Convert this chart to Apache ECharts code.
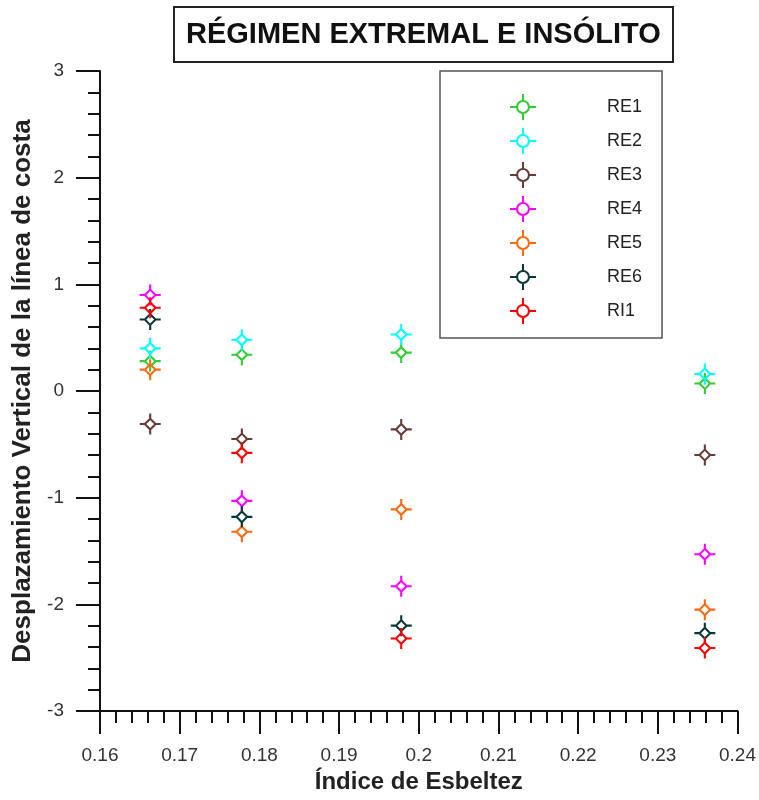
<!DOCTYPE html>
<html>
<head>
<meta charset="utf-8">
<script src="https://cdn.jsdelivr.net/npm/echarts@6/dist/echarts.min.js"></script>
<style>
  html, body { margin: 0; padding: 0; background: #fff; }
  #chart { width: 759px; height: 800px; }
</style>
</head>
<body>
<div id="chart"></div>
<script>
const chartDom = document.getElementById('chart');
const myChart = echarts.init(chartDom);

// Índice de Esbeltez (posiciones en x)
let esbeltez = [0.1663, 0.1778, 0.1978, 0.2359];
// Desplazamiento vertical de la línea de costa
let re1 = [0.28, 0.34, 0.36, 0.07];
let re2 = [0.40, 0.48, 0.53, 0.16];
let re3 = [-0.31, -0.45, -0.36, -0.60];
let re4 = [0.90, -1.03, -1.83, -1.53];
let re5 = [0.20, -1.32, -1.11, -2.05];
let re6 = [0.67, -1.18, -2.20, -2.27];
let ri1 = [0.78, -0.58, -2.32, -2.41];

let names = ['RE1', 'RE2', 'RE3', 'RE4', 'RE5', 'RE6', 'RI1'];
let values = [re1, re2, re3, re4, re5, re6, ri1];
let colors = ['#33cc33', '#00ffff', '#663c38', '#ff00ff', '#ff6a10', '#0a3838', '#ff0000'];

// rombo hueco con cruz (marcador del gráfico)
const markPath = 'path://M10 3.5 L16.5 10 L10 16.5 L3.5 10 Z M10 6.3 L6.3 10 L10 13.7 L13.7 10 Z ' +
    'M9 0 H11 V4.5 H9 Z M9 15.5 H11 V20 H9 Z M0 9 H4.5 V11 H0 Z M15.5 9 H20 V11 H15.5 Z';
// círculo hueco con cruz (icono de la leyenda)
const legendPath = 'path://M6 13 A7 7 0 1 1 20 13 A7 7 0 1 1 6 13 Z ' +
    'M8.1 13 A4.9 4.9 0 1 0 17.9 13 A4.9 4.9 0 1 0 8.1 13 Z ' +
    'M12 0 H14 V6.4 H12 Z M12 19.6 H14 V26 H12 Z M0 12 H6.4 V14 H0 Z M19.6 12 H26 V14 H19.6 Z';

const font = 'Liberation Sans';

let option = {
    animation: false,
    title: {
        text: 'RÉGIMEN EXTREMAL E INSÓLITO',
        left: 174,
        top: 7,
        padding: [13, 12],
        borderWidth: 2,
        borderColor: '#222',
        textStyle: {
            fontFamily: font,
            fontSize: 29,
            fontWeight: 'bold',
            color: '#111'
        }
    },
    legend: {
        orient: 'vertical',
        left: 440,
        top: 71,
        padding: [23, 20, 14, 70],
        itemWidth: 26,
        itemHeight: 26,
        itemGap: 8,
        borderColor: '#555',
        borderWidth: 1.5,
        selectedMode: false,
        textStyle: {
            fontFamily: font,
            fontSize: 18,
            color: '#222',
            padding: [0, 0, 0, 66]
        },
        data: names.map(n => ({ name: n, icon: legendPath }))
    },
    grid: {
        left: 100,
        right: 20,
        top: 71,
        bottom: 89
    },
    xAxis: {
        type: 'value',
        min: 0.16,
        max: 0.24,
        interval: 0.01,
        name: 'Índice de Esbeltez',
        nameLocation: 'middle',
        nameGap: 56,
        nameTextStyle: {
            fontFamily: font,
            fontSize: 24,
            fontWeight: 'bold',
            color: '#222'
        },
        axisLine: { onZero: false, lineStyle: { color: '#111', width: 2 } },
        axisTick: { length: 23, lineStyle: { color: '#111', width: 2 } },
        minorTick: { show: true, splitNumber: 5, length: 12, lineStyle: { color: '#111', width: 2 } },
        splitLine: { show: false },
        axisLabel: {
            margin: 35,
            fontFamily: font,
            fontSize: 19,
            color: '#333',
            formatter: v => String(+v.toFixed(4))
        }
    },
    yAxis: {
        type: 'value',
        min: -3,
        max: 3,
        interval: 1,
        name: 'Desplazamiento Vertical de la línea de costa',
        nameLocation: 'middle',
        nameGap: 60,
        nameTextStyle: {
            fontFamily: font,
            fontSize: 26,
            fontWeight: 'bold',
            color: '#222'
        },
        axisLine: { onZero: false, lineStyle: { color: '#111', width: 2 } },
        axisTick: { length: 24, lineStyle: { color: '#111', width: 2 } },
        minorTick: { show: true, splitNumber: 5, length: 12, lineStyle: { color: '#111', width: 2 } },
        splitLine: { show: false },
        axisLabel: {
            margin: 36,
            fontFamily: font,
            fontSize: 19,
            color: '#333'
        }
    },
    series: names.map((n, i) => ({
        name: n,
        type: 'scatter',
        symbol: markPath,
        symbolSize: 21,
        itemStyle: { color: colors[i], opacity: 1 },
        emphasis: { disabled: true },
        data: esbeltez.map((x, j) => [x, values[i][j]])
    }))
};

myChart.setOption(option);
</script>
</body>
</html>
